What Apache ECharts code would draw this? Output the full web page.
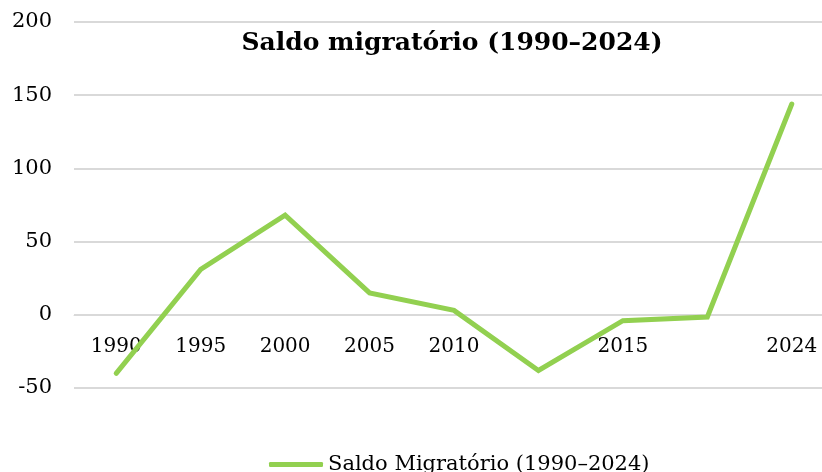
<!DOCTYPE html>
<html>
<head>
<meta charset="utf-8">
<script src="https://cdn.jsdelivr.net/npm/echarts@6/dist/echarts.min.js"></script>
<style>
  html, body { margin: 0; padding: 0; background: #fff; }
  #chart { width: 822px; height: 472px; }
</style>
</head>
<body>
<div id="chart"></div>
<script>
// points along the x axis (two have no printed label)
const periods = ['1990', '1995', '2000', '2005', '2010', 'p6', '2015', 'p8', '2024']
const tickLabels = ['1990', '1995', '2000', '2005', '2010', '', '2015', '', '2024']
const saldo = [-40, 31, 68, 15, 3, -38, -4, -1.5, 144]
const seriesName = 'Saldo Migratório (1990–2024)'

const font = 'DejaVu Serif'
const gridColor = '#d9d9d9'

const chart = echarts.init(document.getElementById('chart'))
chart.setOption({
  backgroundColor: '#fff',
  animation: false,
  title: {
    text: 'Saldo migratório (1990–2024)',
    left: 447,
    textAlign: 'center',
    top: 26,
    textStyle: { fontFamily: font, fontWeight: 'bold', fontSize: 25, color: '#000' }
  },
  legend: {
    bottom: -8,
    left: 264,
    icon: 'roundRect',
    itemWidth: 54,
    itemHeight: 5,
    itemGap: 4,
    textStyle: { fontFamily: font, fontSize: 21, color: '#000' },
    data: [seriesName]
  },
  grid: { left: 74, top: 22, width: 760, height: 366, outerBoundsMode: 'none' },
  xAxis: {
    type: 'category',
    data: periods,
    boundaryGap: true,
    offset: -73.2,
    axisLine: { onZero: false, lineStyle: { color: gridColor, width: 1 } },
    axisTick: { show: false },
    axisLabel: {
      margin: 22,
      interval: 0,
      fontFamily: font,
      fontSize: 20,
      color: '#000',
      formatter: (v, i) => tickLabels[i]
    }
  },
  yAxis: {
    type: 'value',
    min: -50,
    max: 200,
    interval: 50,
    axisLine: { show: false },
    axisTick: { show: false },
    splitLine: { lineStyle: { color: gridColor, width: 2 } },
    axisLabel: { margin: 22, fontFamily: font, fontSize: 21, color: '#000' }
  },
  series: [
    {
      name: seriesName,
      type: 'line',
      data: saldo,
      symbol: 'none',
      lineStyle: { color: '#92d050', width: 5, cap: 'round', join: 'miter' },
      itemStyle: { color: '#92d050' }
    }
  ]
})
</script>
</body>
</html>
